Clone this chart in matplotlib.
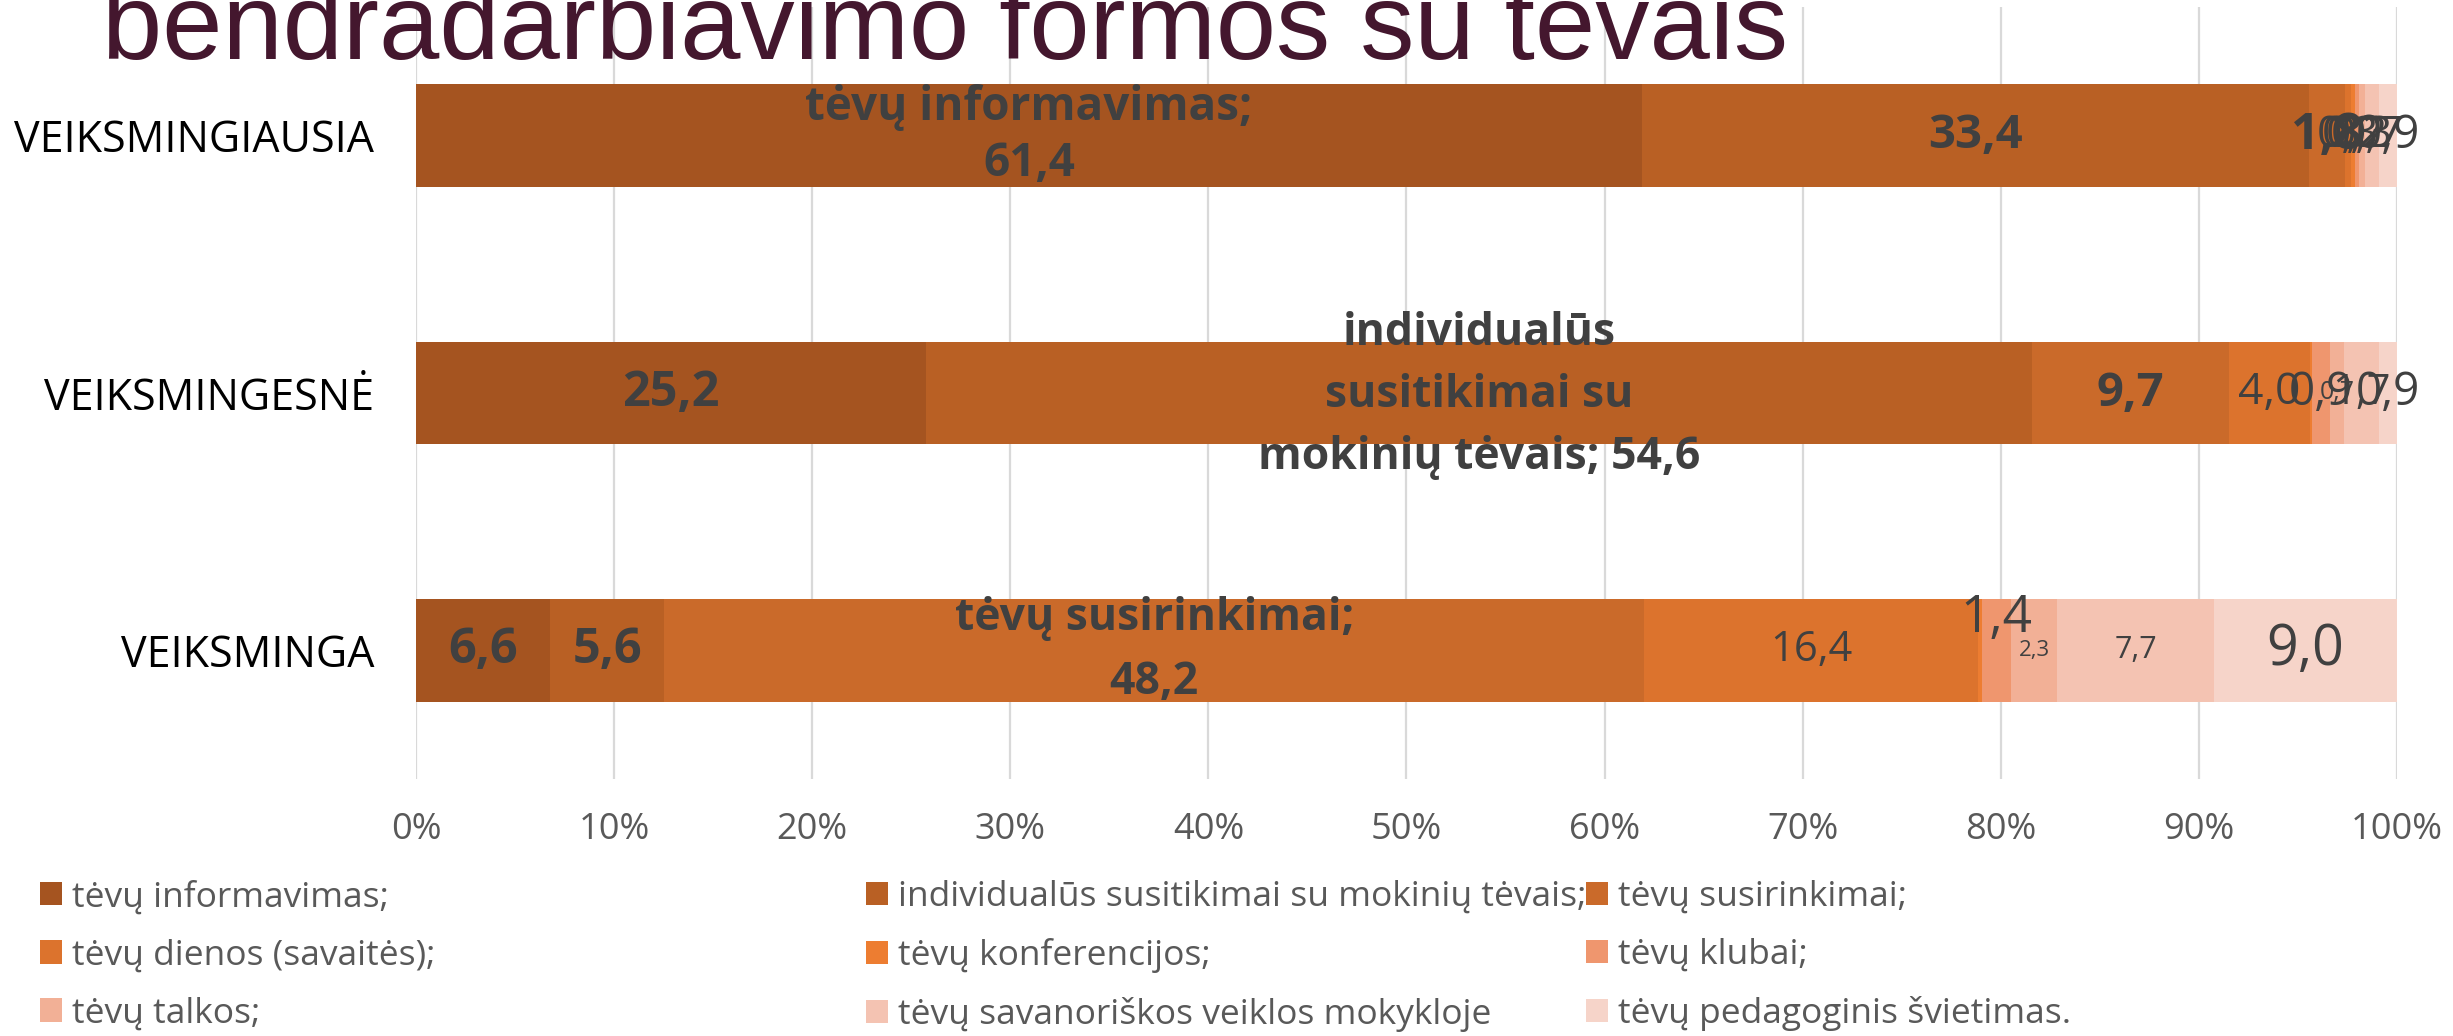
import matplotlib.pyplot as plt
import numpy as np

categories = ["VEIKSMINGIAUSIA", "VEIKSMINGESNĖ", "VEIKSMINGA"]
series_names = [
    "tėvų informavimas;",
    "individualūs susitikimai su mokinių tėvais;",
    "tėvų susirinkimai;",
    "tėvų dienos (savaitės);",
    "tėvų konferencijos;",
    "tėvų klubai;",
    "tėvų talkos;",
    "tėvų savanoriškos veiklos mokykloje",
    "tėvų pedagoginis švietimas.",
]
informavimas = [61.4, 25.2, 6.6]
individualus = [33.4, 54.6, 5.6]
susirinkimai = [1.8, 9.7, 48.2]
dienos = [0.3, 4.0, 16.4]
konferencijos = [0.2, 0.1, 0.2]
klubai = [0.2, 0.9, 1.4]
talkos = [0.3, 0.7, 2.3]
savanoriskos = [0.7, 1.7, 7.7]
svietimas = [0.9, 0.9, 9.0]
tick_labels = [f"{p}%" for p in range(0, 101, 10)]

colors = ["#A55420", "#B96024", "#CA6A2A", "#DC732D", "#ED7D31",
          "#EF966E", "#F2B096", "#F4C3B2", "#F6D4C9"]

plt.rcParams["font.family"] = ["Open Sans", "DejaVu Sans"]

# data labels: (series, row) -> (prefix, size, bold, dy, linespacing); None = hidden
labels = {
    (0, 0): ("tėvų informavimas;\n", 33, True, 0, 1.25), (1, 0): ("", 34, True, 0, 1),
    (2, 0): ("", 36, True, 0, 1), (3, 0): ("", 32, False, 0, 1), (4, 0): ("", 32, False, 0, 1),
    (5, 0): ("", 32, False, 0, 1), (6, 0): ("", 32, False, 0, 1), (7, 0): ("", 32, False, 0, 1),
    (8, 0): ("", 33, False, 0, 1),
    (0, 1): ("", 35, True, 0, 1),
    (1, 1): ("individualūs\nsusitikimai su\nmokinių tėvais; ", 32, True, 0.01, 1.5),
    (2, 1): ("", 34, True, 0, 1), (3, 1): ("", 32, False, 0, 1), (4, 1): None,
    (5, 1): ("", 33, False, 0, 1), (6, 1): ("", 18, False, 0, 1), (7, 1): ("", 30, False, 0, 1),
    (8, 1): ("", 33, False, 0, 1),
    (0, 2): ("", 35, True, 0, 1), (1, 2): ("", 35, True, 0, 1),
    (2, 2): ("tėvų susirinkimai;\n", 32, True, 0, 1.55), (3, 2): ("", 30, False, 0, 1),
    (4, 2): None, (5, 2): ("", 37, False, -0.125, 1), (6, 2): ("", 16, False, 0, 1),
    (7, 2): ("", 22, False, 0, 1), (8, 2): ("", 40, False, 0, 1),
}

data = np.array([informavimas, individualus, susirinkimai, dienos, konferencijos,
                 klubai, talkos, savanoriskos, svietimas])
shares = data / data.sum(axis=0) * 100

fig = plt.figure(figsize=(24.53, 10.36), dpi=100)
ax = fig.add_axes([416 / 2453, 1 - 779 / 1036, (2397 - 416) / 2453, 772 / 1036])

y = np.arange(len(categories))
left = np.zeros(len(categories))
bars = []
for i, name in enumerate(series_names):
    b = ax.barh(y, shares[i], left=left, height=0.4, color=colors[i], label=name, linewidth=0)
    bars.append(b)
    for j in range(len(categories)):
        spec = labels.get((i, j))
        if spec is None:
            continue
        prefix, size, bold, dy, ls = spec
        txt = prefix + f"{data[i, j]:.1f}".replace(".", ",")
        ax.text(left[j] + shares[i, j] / 2, y[j] + dy, txt, ha="center", va="center",
                fontsize=size, fontweight="bold" if bold else "normal",
                color="#404040", linespacing=ls)
    left += shares[i]

ax.set_xlim(0, 100)
ax.set_ylim(2.5, -0.5)
ax.set_xticks(range(0, 101, 10))
ax.set_xticklabels(tick_labels, fontsize=26, color="#595959")
ax.set_yticks(y)
ax.set_yticklabels(categories, fontsize=31, color="#000000")
ax.tick_params(axis="x", length=0, pad=24)
ax.tick_params(axis="y", length=0, pad=30)
ax.xaxis.grid(True, color="#D9D9D9", linewidth=1.6)
ax.set_axisbelow(True)
for s in ax.spines.values():
    s.set_visible(False)

# title, cut off at the top of the picture
fig.text(102 / 2453, 1 - 59 / 1036, "bendradarbiavimo formos su tėvais", fontsize=78,
         family="Liberation Sans", color="#44172E", va="baseline", ha="left")

# legend in three columns
col_x = [40 / 2453, 866 / 2453, 1586 / 2453]
for c in range(3):
    idx = [c, c + 3, c + 6]
    fig.legend([bars[k] for k in idx], [series_names[k] for k in idx],
               loc="upper left", bbox_to_anchor=(col_x[c], 1 - 880 / 1036),
               frameon=False, fontsize=25.5, labelcolor="#595959",
               handlelength=0.63, handleheight=0.63, handletextpad=0.28,
               labelspacing=0.68, borderpad=0, borderaxespad=0)

fig.savefig("out.png", dpi=100)
